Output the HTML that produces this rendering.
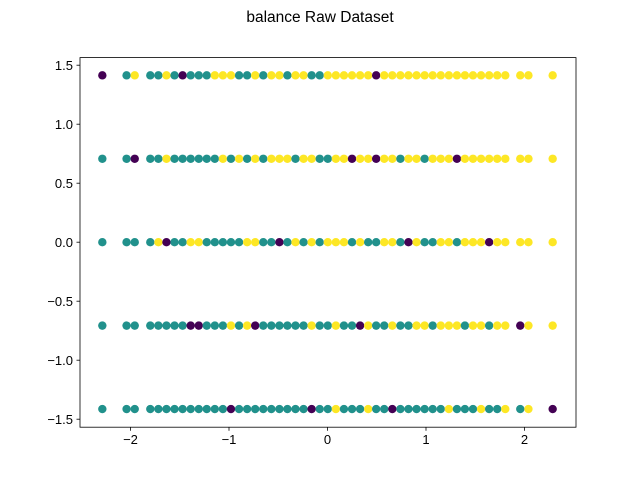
<!DOCTYPE html>
<html><head><meta charset="utf-8"><style>body{margin:0;background:#fff}svg{display:block;font-family:"Liberation Sans","DejaVu Sans",sans-serif}</style></head>
<body>
<svg id="chart" width="640" height="480">
<text x="320" y="22" text-anchor="middle" font-size="15.5" fill="#000">balance Raw Dataset</text>
</svg>
<script>
const xGrid = [-2.286,-2.04,-1.957,-1.799,-1.717,-1.635,-1.553,-1.471,-1.389,-1.307,-1.226,-1.144,-1.062,-0.980,-0.898,-0.816,-0.734,-0.652,-0.570,-0.488,-0.407,-0.325,-0.243,-0.161,-0.079,0.003,0.085,0.167,0.249,0.331,0.413,0.494,0.576,0.658,0.740,0.822,0.904,0.986,1.068,1.150,1.232,1.314,1.395,1.477,1.559,1.641,1.723,1.805,1.957,2.04,2.286];
const yRows = [1.414,0.707,0,-0.707,-1.414];
const rowClasses = [
"PTYTTYTPTTTYYYTTYTYYTYYTTYYYYYYPYYYYYYYYYYYYYYYYYYY",
"TTPTTYTTTTTTYTYTYTYYYTYYTTYYPYYPYYTYYTYYYPYYYYYYYYY",
"TTTTYPTTYYTTTTTYYTTPTYTYTYYYTYTTYYTPYTTYYTYYYPYYYYY",
"TTTTTTTTPPTTTYTYPTTTTTTYTTYTTPYTTYTTYYTYYYTYYTYYPYY",
"TTTTTTTTTTTTTPTTTTTTTTTPTTYTTTYTTPTTTTTTYTTTYTTYTYP"
];
const tickX = [-2,-1,0,1,2];
const tickXLabels = ["\u22122","\u22121","0","1","2"];
const tickY = [-1.5,-1.0,-0.5,0.0,0.5,1.0,1.5];
const tickYLabels = ["\u22121.5","\u22121.0","\u22120.5","0.0","0.5","1.0","1.5"];
const colors = {P:"#440154",T:"#21918c",Y:"#fde725"};
const L=80,R=576,T=57.6,B=427.2;
const xs = v => 327.5 + v*98.5;
const ys = v => 242.2 - v*118;
const svg = document.getElementById('chart');
const NS='http://www.w3.org/2000/svg';
function mk(tag, attrs){const e=document.createElementNS(NS,tag);for(const k in attrs)e.setAttribute(k,attrs[k]);svg.appendChild(e);return e;}
yRows.forEach((yv,r)=>{
  const s=rowClasses[r];
  for(let i=0;i<xGrid.length && i<s.length;i++){
    const c=s[i]; if(!colors[c]) continue;
    const d=mk('circle',{cx:xs(xGrid[i]),cy:ys(yv),r:4.2,fill:colors[c]});
    
    
  }
});
const frame=mk('rect',{x:L,y:T,width:R-L,height:B-T,fill:'none',stroke:'#000','stroke-width':0.8});


tickX.forEach((v,i)=>{
  const x=xs(v);
  const t=mk('line',{x1:x,x2:x,y1:B,y2:B+3.5,stroke:'#000','stroke-width':0.8});
  
  
  const l=mk('text',{x:x,y:B+17,'text-anchor':'middle','font-size':13,fill:'#000'});
  l.textContent=tickXLabels[i];
  
  
});
tickY.forEach((v,i)=>{
  const y=ys(v);
  const t=mk('line',{x1:L-3.5,x2:L,y1:y,y2:y,stroke:'#000','stroke-width':0.8});
  
  
  const l=mk('text',{x:L-7,y:y+4.8,'text-anchor':'end','font-size':13,fill:'#000'});
  l.textContent=tickYLabels[i];
  
  
});
</script>
</body></html>
